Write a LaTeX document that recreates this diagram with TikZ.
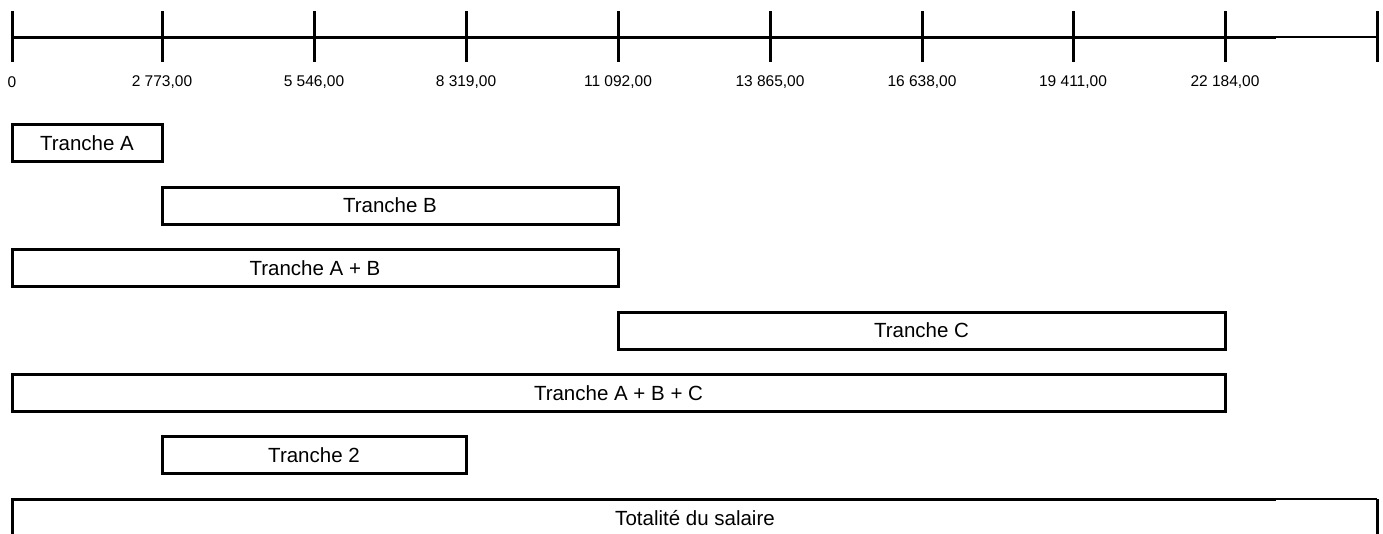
\documentclass[tikz,border=0pt]{standalone}
\usepackage{fontspec}
\setmainfont{Liberation Sans}
\begin{document}
\begin{tikzpicture}[x=1pt,y=-1pt,
  thickln/.style={line width=3pt},
  thinln/.style={line width=1.4pt},
  tickln/.style={line width=3pt},
  ticklbl/.style={font=\fontsize{15.5}{18}\selectfont, inner sep=0pt},
  bandbox/.style={draw, line width=3pt, minimum height=37pt, inner sep=0pt,
    font=\fontsize{20.5}{24}\selectfont},
  bandlbl/.style={font=\fontsize{20.5}{24}\selectfont, inner sep=0pt}]
\useasboundingbox (0,0) rectangle (1383,533);
% axis
\coordinate (a0) at (12,37);
\coordinate (aend) at (1276,37);
\coordinate (aright) at (1377,37);
\draw[thickln] (a0) -- (aend);
\draw[thinln] (aend) -- (aright);
\foreach \i/\x/\lab in {0/12/0, 1/162/{2 773,00}, 2/314/{5 546,00}, 3/466/{8 319,00}, 4/618/{11 092,00}, 5/770/{13 865,00}, 6/922/{16 638,00}, 7/1073/{19 411,00}, 8/1225/{22 184,00}}{
  \coordinate (t\i) at (\x,37);
  \draw[tickln] (\x,11) -- (\x,62);
  \node[ticklbl] (l\i) at (\x,82) {\lab};
}
\draw[tickln] (1377,11) -- (1377,62);
% bands
\node[bandbox, minimum width=150pt] (ta) at (87,143) {Tranche A};
\node[bandbox, minimum width=456pt] (tb) at (390,205.5) {Tranche B};
\node[bandbox, minimum width=606pt] (tab) at (315,268) {Tranche A + B};
\node[bandbox, minimum width=607pt] (tc) at (921.5,330.5) {Tranche C};
\node[bandbox, minimum width=1213pt] (tabc) at (618.5,393) {Tranche A + B + C};
\node[bandbox, minimum width=304pt] (t2) at (314,455) {Tranche 2};
% totalite (open at bottom)
\coordinate (s0) at (12,540);
\coordinate (s1) at (12,499);
\coordinate (s2) at (1276,499);
\coordinate (s3) at (1377,499);
\coordinate (s4) at (1377,540);
\draw[thickln] (s0) -- (s1) -- (s2);
\draw[thinln] (s2) -- (s3);
\draw[thickln] (s3) -- (s4);
\node[bandlbl] (tot) at (695,518) {Totalité du salaire};
\end{tikzpicture}
\end{document}
